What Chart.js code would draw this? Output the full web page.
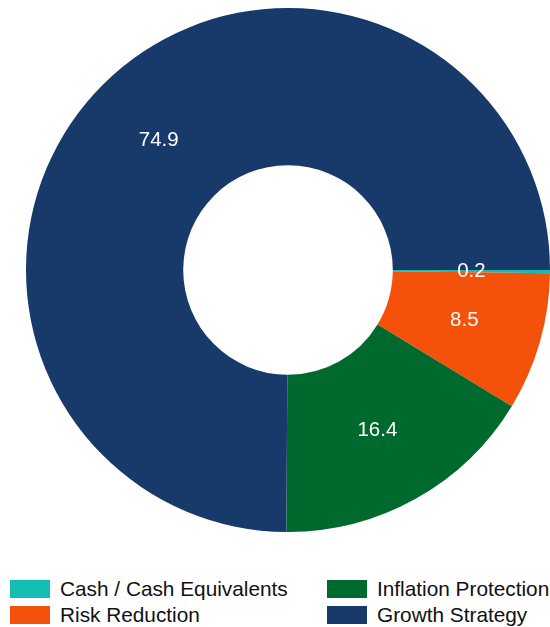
<!DOCTYPE html>
<html>
<head>
<meta charset="utf-8">
<script src="https://cdn.jsdelivr.net/npm/chart.js@4"></script>
<style>
  body { margin: 0; background: #fff; font-family: "Liberation Sans", Arial, sans-serif; }
  #wrap { position: relative; width: 550px; height: 627px; overflow: hidden; }
  #box { position: absolute; left: 26px; top: 8px; width: 524px; height: 524px; }
  .item { position: absolute; display: flex; align-items: center; font-size: 20.8px; color: #111; white-space: nowrap; }
  .sw { width: 40px; height: 18px; margin-right: 10px; }
</style>
</head>
<body>
<div id="wrap">
  <div id="box"><canvas id="donut"></canvas></div>
  <div id="legend"></div>
</div>
<script>
const labels = ["Cash / Cash Equivalents", "Risk Reduction", "Inflation Protection", "Growth Strategy"];
const values = [0.2, 8.5, 16.4, 74.9];
const colors = ["#14bdb1", "#f4510b", "#006a2e", "#183a6a"];

// legend: 2 columns, filled column-wise like the reference
const legendPos = [[10, 580], [10, 606], [327, 580], [327, 606]];
const legend = document.getElementById("legend");
labels.forEach(function (name, i) {
  let div = document.createElement("div");
  div.className = "item";
  div.style.left = legendPos[i][0] + "px";
  div.style.top = (legendPos[i][1] - 3) + "px";
  div.innerHTML = '<span class="sw" style="background:' + colors[i] + '"></span>' + name;
  legend.appendChild(div);
});

// white value labels in the middle of each ring slice
const sliceLabels = {
  id: "sliceLabels",
  afterDatasetsDraw(chart) {
    const ctx = chart.ctx;
    ctx.save();
    ctx.fillStyle = "#fff";
    ctx.font = '20.5px "Liberation Sans", Arial, sans-serif';
    ctx.textAlign = "center";
    ctx.textBaseline = "middle";
    chart.getDatasetMeta(0).data.forEach(function (arc, i) {
      const p = arc.tooltipPosition();
      ctx.fillText(values[i].toFixed(1), p.x, p.y);
    });
    ctx.restore();
  }
};

new Chart(document.getElementById("donut"), {
  type: "doughnut",
  data: {
    labels: labels,
    datasets: [{
      data: values,
      backgroundColor: colors,
      borderWidth: 0
    }]
  },
  options: {
    responsive: true,
    maintainAspectRatio: false,
    animation: false,
    rotation: 90,
    cutout: "40%",
    layout: { padding: 0 },
    plugins: {
      legend: { display: false },
      tooltip: { enabled: false }
    }
  },
  plugins: [sliceLabels]
});
</script>
</body>
</html>
